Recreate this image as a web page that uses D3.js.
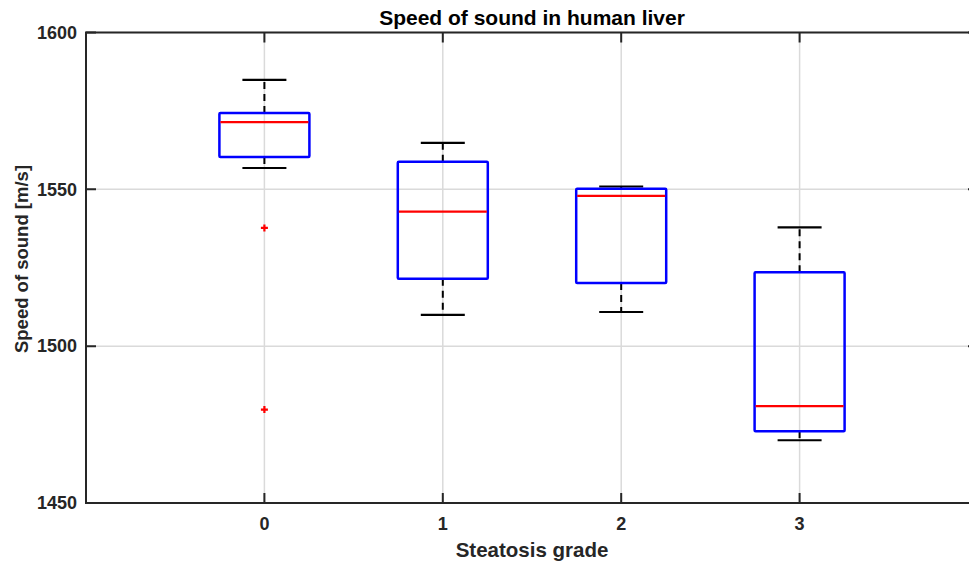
<!DOCTYPE html>
<html>
<head>
<meta charset="utf-8">
<script src="https://cdn.jsdelivr.net/npm/d3@7"></script>
<style>
  body { margin: 0; background: #fff; }
  text { font-family: "Liberation Sans", Arial, sans-serif; font-weight: bold; fill: #262626; }
</style>
</head>
<body>
<div class="chart"></div>
<script>
// data
const grades = [0, 1, 2, 3];
const whiskerLow = [1556.8, 1510.0, 1510.9, 1470.0];
const boxLow = [1560.3, 1521.5, 1520.1, 1472.9];
const medians = [1571.4, 1542.9, 1547.9, 1480.9];
const boxHigh = [1574.3, 1558.8, 1550.2, 1523.6];
const whiskerHigh = [1584.9, 1564.8, 1550.9, 1537.9];
const outlierGrade = [0, 0];
const outlierValue = [1537.7, 1479.8];
const yTicks = [1450, 1500, 1550, 1600];

const margin = {top: 32.5, left: 86, right: 0, bottom: 63};
const fullWidth = 969, fullHeight = 566;
const plotRight = 978; // axes box runs slightly past the window

const svg = d3.select(".chart").append("svg")
    .attr("width", fullWidth)
    .attr("height", fullHeight);

const xScale = d3.scaleLinear()
    .domain([-1, 4])
    .range([margin.left, plotRight]);

const yScale = d3.scaleLinear()
    .domain([1450, 1600])
    .range([fullHeight - margin.bottom, margin.top]);

const yTop = yScale(1600), yBottom = yScale(1450);
const xLeft = xScale(-1), xRight = xScale(4);

// grid
const grid = svg.append("g").attr("stroke", "#dadada").attr("stroke-width", 1.5);
grid.selectAll(".vgrid").data(grades).join("line")
    .attr("x1", d => xScale(d)).attr("x2", d => xScale(d))
    .attr("y1", yTop).attr("y2", yBottom);
grid.selectAll(".hgrid").data(yTicks).join("line")
    .attr("y1", d => yScale(d)).attr("y2", d => yScale(d))
    .attr("x1", xLeft).attr("x2", xRight);

// boxes
const rows = grades.map((g, i) => ({
    g, lo: whiskerLow[i], q1: boxLow[i], med: medians[i], q3: boxHigh[i], hi: whiskerHigh[i]
}));
const boxHalf = 45, capHalf = 22;

const boxes = svg.append("g").selectAll("g").data(rows).join("g");

boxes.append("line") // upper whisker
    .attr("x1", d => xScale(d.g)).attr("x2", d => xScale(d.g))
    .attr("y1", d => yScale(d.q3)).attr("y2", d => yScale(d.hi))
    .attr("stroke", "#000").attr("stroke-width", 2).attr("stroke-dasharray", "7,5");
boxes.append("line") // lower whisker
    .attr("x1", d => xScale(d.g)).attr("x2", d => xScale(d.g))
    .attr("y1", d => yScale(d.q1)).attr("y2", d => yScale(d.lo))
    .attr("stroke", "#000").attr("stroke-width", 2).attr("stroke-dasharray", "7,5");

boxes.selectAll(".cap").data(d => [[d.g, d.lo], [d.g, d.hi]]).join("line")
    .attr("x1", d => xScale(d[0]) - capHalf).attr("x2", d => xScale(d[0]) + capHalf)
    .attr("y1", d => yScale(d[1])).attr("y2", d => yScale(d[1]))
    .attr("stroke", "#000").attr("stroke-width", 2.2);

boxes.append("rect")
    .attr("x", d => xScale(d.g) - boxHalf)
    .attr("width", boxHalf * 2)
    .attr("y", d => yScale(d.q3))
    .attr("height", d => yScale(d.q1) - yScale(d.q3))
    .attr("fill", "none").attr("stroke", "#0000ff").attr("stroke-width", 2.5)
    .attr("rx", 1);

boxes.append("line")
    .attr("x1", d => xScale(d.g) - boxHalf + 1).attr("x2", d => xScale(d.g) + boxHalf - 1)
    .attr("y1", d => yScale(d.med)).attr("y2", d => yScale(d.med))
    .attr("stroke", "#ff0000").attr("stroke-width", 2.2);

// outliers as red plus markers
const outliers = outlierGrade.map((g, i) => ({g, v: outlierValue[i]}));
svg.append("g").selectAll("path").data(outliers).join("path")
    .attr("d", d => {
        const x = xScale(d.g), y = yScale(d.v), r = 3.5;
        return `M${x - r},${y}H${x + r}M${x},${y - r}V${y + r}`;
    })
    .attr("stroke", "#ff0000").attr("stroke-width", 2.2);

// axes box with inward ticks
const axisColor = "#262626";
const tickLen = 10;
const ax = svg.append("g").attr("stroke", axisColor).attr("stroke-width", 2);
ax.selectAll(".ty").data(yTicks).join("path")
    .attr("d", d => `M${xLeft},${yScale(d)}h${tickLen}M${xRight},${yScale(d)}h${-tickLen}`);
ax.selectAll(".tx").data(grades).join("path")
    .attr("d", d => `M${xScale(d)},${yBottom}v${-tickLen}M${xScale(d)},${yTop}v${tickLen}`);
ax.append("rect")
    .attr("x", xLeft).attr("y", yTop)
    .attr("width", xRight - xLeft).attr("height", yBottom - yTop)
    .attr("fill", "none");

// tick labels
svg.append("g").selectAll("text").data(yTicks).join("text")
    .attr("x", xLeft - 9).attr("y", d => yScale(d)).attr("dy", "0.35em")
    .attr("text-anchor", "end").attr("font-size", 18)
    .text(d => d);
svg.append("g").selectAll("text").data(grades).join("text")
    .attr("x", d => xScale(d)).attr("y", 530)
    .attr("text-anchor", "middle").attr("font-size", 18)
    .text(d => d);

// titles
svg.append("text")
    .attr("x", (xLeft + xRight) / 2).attr("y", 25)
    .attr("text-anchor", "middle").attr("font-size", 21)
    .style("fill", "#000")
    .text("Speed of sound in human liver");

svg.append("text")
    .attr("x", (xLeft + xRight) / 2).attr("y", 557)
    .attr("text-anchor", "middle").attr("font-size", 20.5)
    .text("Steatosis grade");

svg.append("text")
    .attr("transform", `translate(28,259) rotate(-90)`)
    .attr("text-anchor", "middle").attr("font-size", 18.5)
    .text("Speed of sound [m/s]");
</script>
</body>
</html>
